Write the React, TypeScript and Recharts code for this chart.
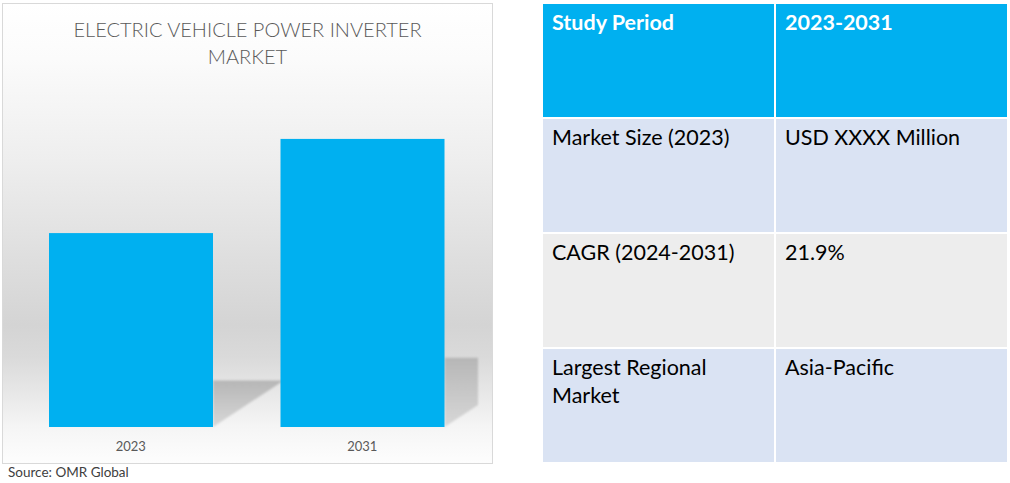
import { Bar, BarChart, XAxis, YAxis } from "recharts";

const years = ["2023", "2031"];
const marketValues = [59.3, 88.1];

const tableLabels = ["Study Period", "Market Size (2023)", "CAGR (2024-2031)", "Largest Regional Market"];
const tableValues = ["2023-2031", "USD XXXX Million", "21.9%", "Asia-Pacific"];

const data = years.map((year, i) => ({ year, value: marketValues[i] }));

const CHART_W = 489;
const CHART_H = 459;
const MARGIN = { top: 96, right: 14, bottom: 6, left: 12 };
const PLOT_RIGHT = CHART_W - MARGIN.right;
const BLUE = "#00b0f0";
const FONT = "Lato, 'Noto Sans', sans-serif";

// bar with a perspective shadow falling to the right
function ShadowBar(props: any) {
  const { x, y, width, height, fill } = props;
  const bottom = y + height;
  const sTop = y + height * 0.76;
  const edge = x + width;
  const reach = (bottom - sTop) * 1.52;
  const right = Math.min(edge + reach, PLOT_RIGHT);
  const yRight = bottom - ((right - edge) / reach) * (bottom - sTop);
  return (
    <g>
      <polygon
        points={`${edge},${sTop} ${right},${sTop} ${right},${yRight} ${edge},${bottom}`}
        fill="url(#shadowGrad)"
        filter="url(#soft)"
      />
      <rect x={x} y={y} width={width} height={height} fill={fill} />
    </g>
  );
}

const rowBg = [BLUE, "#dae3f3", "#ededed", "#dae3f3"];

export default function App() {
  const cell = (i: number) => ({
    background: rowBg[i],
    padding: "4px 9px",
    fontSize: 21.5,
    lineHeight: "28px",
    color: i === 0 ? "#fff" : "#000",
    fontWeight: i === 0 ? 700 : 400,
  });
  return (
    <div style={{ position: "absolute", left: 0, top: 0, width: 1010, height: 483, background: "#fff", fontFamily: FONT }}>
      <div
        style={{
          position: "absolute",
          left: 2,
          top: 3,
          width: 491,
          height: 461,
          boxSizing: "border-box",
          border: "1px solid #d9d9d9",
          background:
            "linear-gradient(to bottom, #ffffff 0%, #fbfbfb 12%, #eeeeee 34%, #dedede 56%, #d4d4d4 70%, #dadada 77%, #e8e8e8 85%, #f5f5f5 92%, #fdfdfd 100%)",
        }}
      >
        <BarChart width={CHART_W} height={CHART_H} data={data} margin={MARGIN}>
          <defs>
            <linearGradient id="shadowGrad" x1="0" y1="0" x2="0" y2="1">
              <stop offset="0%" stopColor="#b6b6b6" />
              <stop offset="100%" stopColor="#d8d8d8" />
            </linearGradient>
            <filter id="soft" x="-10%" y="-10%" width="120%" height="120%">
              <feGaussianBlur stdDeviation="1.2" />
            </filter>
          </defs>
          <XAxis
            dataKey="year"
            axisLine={false}
            tickLine={false}
            tickSize={0}
            tickMargin={15}
            height={30}
            tick={{ fontSize: 13, fill: "#595959", fontFamily: FONT }}
          />
          <YAxis hide domain={[0, 100]} />
          <Bar dataKey="value" fill={BLUE} barSize={164} shape={ShadowBar} isAnimationActive={false} />
        </BarChart>
        <div
          style={{
            position: "absolute",
            left: 0,
            top: 12,
            width: 489,
            textAlign: "center",
            fontSize: 20,
            lineHeight: "27px",
            color: "#595959",
            fontWeight: 300,
          }}
        >
          ELECTRIC VEHICLE POWER INVERTER
          <br />
          MARKET
        </div>
      </div>
      <div style={{ position: "absolute", left: 8, top: 463, fontSize: 13.5, color: "#404040", lineHeight: "18px" }}>
        Source: OMR Global
      </div>
      <div
        style={{
          position: "absolute",
          left: 543,
          top: 4,
          display: "grid",
          gridTemplateColumns: "231px 231px",
          gridAutoRows: "113px",
          gap: 2,
        }}
      >
        {tableLabels.map((label, i) => [
          <div key={`l${i}`} style={cell(i)}>
            {label}
          </div>,
          <div key={`v${i}`} style={cell(i)}>
            {tableValues[i]}
          </div>,
        ])}
      </div>
    </div>
  );
}
